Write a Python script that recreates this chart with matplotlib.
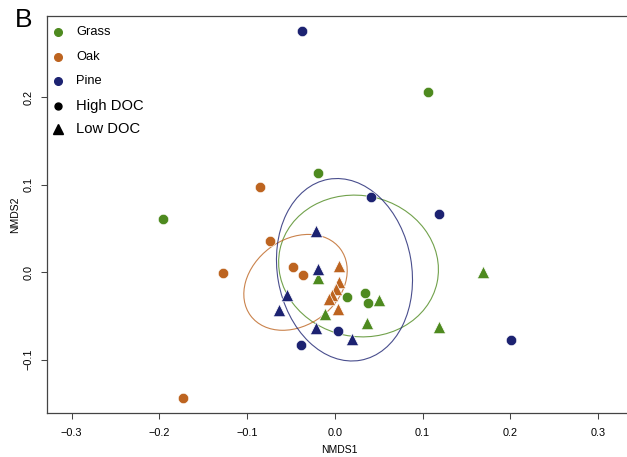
import matplotlib
matplotlib.use("Agg")
import matplotlib.pyplot as plt
from matplotlib.patches import Ellipse

plt.rcParams['font.family'] = ['Liberation Sans', 'DejaVu Sans']

# NMDS scores per habitat, split by DOC level
grass_high_x = [-0.1959, -0.0190, 0.1063, 0.0137, 0.0342, 0.0379]
grass_high_y = [0.0606, 0.1128, 0.2054, -0.0282, -0.0240, -0.0349]
grass_low_x = [-0.0188, -0.0110, 0.0505, 0.0370, 0.1689, 0.1185]
grass_low_y = [-0.0072, -0.0480, -0.0320, -0.0579, 0.0003, -0.0625]

oak_high_x = [-0.0854, -0.1276, -0.1731, -0.0740, -0.0482, -0.0368]
oak_high_y = [0.0971, -0.0011, -0.1440, 0.0354, 0.0061, -0.0038]
oak_low_x = [0.0046, 0.0046, 0.0011, -0.0034, -0.0063, 0.0031]
oak_low_y = [0.0069, -0.0111, -0.0194, -0.0257, -0.0303, -0.0426]

pine_high_x = [-0.0376, 0.0410, 0.1185, 0.2013, 0.0031, -0.0387]
pine_high_y = [0.2754, 0.0854, 0.0666, -0.0777, -0.0669, -0.0838]
pine_low_x = [-0.0209, -0.0190, -0.0543, -0.0634, -0.0220, 0.0197]
pine_low_y = [0.0469, 0.0031, -0.0263, -0.0434, -0.0637, -0.0766]

# ordination ellipses: centre x, centre y, width, height, angle
ell_grass = [0.027, 0.0069, 0.183, 0.161, -12]
ell_oak = [-0.0448, -0.0118, 0.1276, 0.098, 36.8]
ell_pine = [0.011, 0.0026, 0.153, 0.21, 10]

groups = ["Grass", "Oak", "Pine"]
colors = {"Grass": "#4e8a1f", "Oak": "#bd6420", "Pine": "#1c2271"}

fig = plt.figure(figsize=(6.27, 4.57), dpi=100)
# plot box runs past the right edge of the image
ax = fig.add_axes([47 / 627, 44 / 457, 584 / 627, 397 / 457])

data = {
    "Grass": (grass_high_x, grass_high_y, grass_low_x, grass_low_y, ell_grass),
    "Oak": (oak_high_x, oak_high_y, oak_low_x, oak_low_y, ell_oak),
    "Pine": (pine_high_x, pine_high_y, pine_low_x, pine_low_y, ell_pine),
}

for g in groups:
    hx, hy, lx, ly, e = data[g]
    c = colors[g]
    ax.scatter(hx, hy, s=55, marker='o', color=c, edgecolors='white', linewidths=0.4, zorder=3)
    ax.scatter(lx, ly, s=80, marker='^', color=c, edgecolors='white', linewidths=0.5, zorder=3)
    ax.add_patch(Ellipse((e[0], e[1]), e[2], e[3], angle=e[4], fill=False,
                         edgecolor=c, linewidth=0.8, alpha=0.8, zorder=2))

ax.set_xlim(-0.328, 0.3375)
ax.set_ylim(-0.1611, 0.2926)
ax.set_xticks([-0.3, -0.2, -0.1, 0.0, 0.1, 0.2, 0.3])
ax.set_yticks([-0.1, 0.0, 0.1, 0.2])
ax.set_xticklabels(["\u22120.3", "\u22120.2", "\u22120.1", "0.0", "0.1", "0.2", "0.3"])
ax.set_yticklabels(["\u22120.1", "0.0", "0.1", "0.2"], rotation=90, va='center')
ax.tick_params(length=4.5, width=0.75, color='#444444', labelsize=7.8)
ax.tick_params(axis='x', pad=6.5)
ax.tick_params(axis='y', pad=5)
for sp in ax.spines.values():
    sp.set_color('#444444')
    sp.set_linewidth(0.9)
ax.spines['right'].set_visible(False)
ax.set_xlabel("NMDS1", fontsize=7.5, labelpad=5)
ax.set_ylabel("NMDS2", fontsize=7.5, labelpad=3)

# legend drawn by hand, two blocks with different text sizes
leg_rows = [(32, "o", colors["Grass"], "Grass", 9.3, 5.5),
            (57, "o", colors["Oak"], "Oak", 9.3, 5.5),
            (81, "o", colors["Pine"], "Pine", 9.3, 5.5),
            (106, "o", "black", "High DOC", 10.6, 5),
            (129, "^", "black", "Low DOC", 10.6, 6.5)]
for yp, m, c, lab, fs, ms in leg_rows:
    fig.lines.append(plt.Line2D([58 / 627], [1 - yp / 457], marker=m, color=c,
                                markersize=ms, linestyle='none', transform=fig.transFigure))
    fig.text(76 / 627, 1 - yp / 457, lab, fontsize=fs, va='center', ha='left')

fig.text(15 / 627, 1 - 20 / 457, "B", fontsize=19, va='center', ha='left')

fig.savefig("out.png", dpi=100)
